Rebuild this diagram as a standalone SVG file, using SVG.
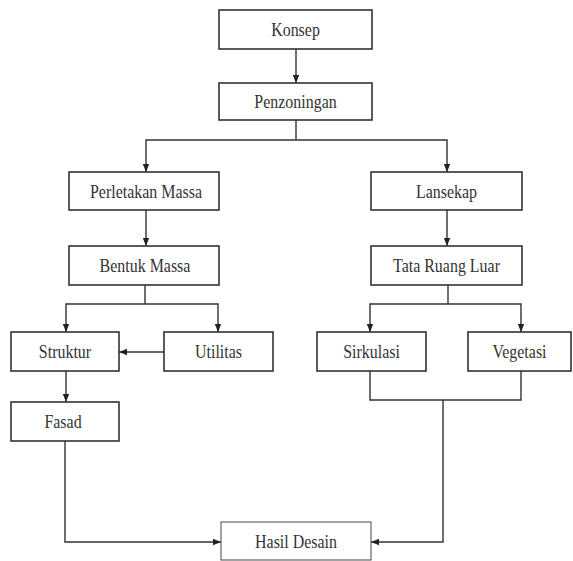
<svg xmlns="http://www.w3.org/2000/svg" width="573" height="561" viewBox="0 0 573 561">
<style>
.box{fill:#fff;stroke:#333;stroke-width:1.6}
.thin{fill:#fff;stroke:#555;stroke-width:1.1}
.lbl{font-family:"Liberation Serif","Times New Roman",serif;font-size:19px;fill:#333;text-anchor:middle}
.ln{fill:none;stroke:#333;stroke-width:1.4}
</style>
<defs>
<marker id="ah" viewBox="0 0 8 8" refX="8" refY="4" markerWidth="8" markerHeight="8" markerUnits="userSpaceOnUse" orient="auto">
<path d="M0,0.8 L8,4 L0,7.2 Z" fill="#222"/>
</marker>
</defs>
<g id="connectors">
<line class="ln" x1="296" y1="49" x2="296" y2="83" marker-end="url(#ah)"/>
<polyline class="ln" points="296,120 296,140"/>
<polyline class="ln" points="296,140 146,140 146,172" marker-end="url(#ah)"/>
<polyline class="ln" points="296,140 447,140 447,172" marker-end="url(#ah)"/>
<line class="ln" x1="146" y1="210" x2="146" y2="246" marker-end="url(#ah)"/>
<line class="ln" x1="447" y1="210" x2="447" y2="246" marker-end="url(#ah)"/>
<polyline class="ln" points="145,285 145,304"/>
<polyline class="ln" points="145,304 66,304 66,332" marker-end="url(#ah)"/>
<polyline class="ln" points="145,304 218,304 218,332" marker-end="url(#ah)"/>
<line class="ln" x1="164" y1="352" x2="119" y2="352" marker-end="url(#ah)"/>
<line class="ln" x1="66" y1="371" x2="66" y2="402" marker-end="url(#ah)"/>
<polyline class="ln" points="65,441 65,542 221,542" marker-end="url(#ah)"/>
<polyline class="ln" points="448,285 448,304"/>
<polyline class="ln" points="448,304 370,304 370,332" marker-end="url(#ah)"/>
<polyline class="ln" points="448,304 521,304 521,332" marker-end="url(#ah)"/>
<polyline class="ln" points="370,371 370,400 521,400 521,371"/>
<polyline class="ln" points="443,400 443,542 371,542" marker-end="url(#ah)"/>
</g>
<g id="konsep"><rect class="box" x="219" y="10" width="153" height="39"/><text class="lbl" transform="translate(295.5,36) scale(0.84,1)">Konsep</text></g>
<g id="penzoningan"><rect class="box" x="219" y="83" width="153" height="37"/><text class="lbl" transform="translate(295.5,108) scale(0.84,1)">Penzoningan</text></g>
<g id="perletakan"><rect class="box" x="69" y="172" width="150" height="38"/><text class="lbl" transform="translate(146,198) scale(0.84,1)">Perletakan Massa</text></g>
<g id="bentuk"><rect class="box" x="69" y="246" width="150" height="39"/><text class="lbl" transform="translate(145,272) scale(0.84,1)">Bentuk Massa</text></g>
<g id="lansekap"><rect class="box" x="371" y="172" width="151" height="38"/><text class="lbl" transform="translate(446.5,198) scale(0.84,1)">Lansekap</text></g>
<g id="tataruang"><rect class="box" x="371" y="246" width="151" height="39"/><text class="lbl" transform="translate(446.5,272) scale(0.84,1)">Tata Ruang Luar</text></g>
<g id="struktur"><rect class="box" x="11" y="332" width="108" height="39"/><text class="lbl" transform="translate(65,358) scale(0.84,1)">Struktur</text></g>
<g id="utilitas"><rect class="box" x="164" y="332" width="109" height="39"/><text class="lbl" transform="translate(218.5,358) scale(0.84,1)">Utilitas</text></g>
<g id="fasad"><rect class="box" x="11" y="402" width="108" height="39"/><text class="lbl" transform="translate(63,428) scale(0.84,1)">Fasad</text></g>
<g id="sirkulasi"><rect class="box" x="317" y="332" width="109" height="39"/><text class="lbl" transform="translate(371.5,358) scale(0.84,1)">Sirkulasi</text></g>
<g id="vegetasi"><rect class="box" x="468" y="332" width="103" height="39"/><text class="lbl" transform="translate(519.5,358) scale(0.84,1)">Vegetasi</text></g>
<g id="hasil"><rect class="thin" x="221" y="522" width="150" height="38"/><text class="lbl" transform="translate(296,548) scale(0.84,1)">Hasil Desain</text></g>
</svg>
